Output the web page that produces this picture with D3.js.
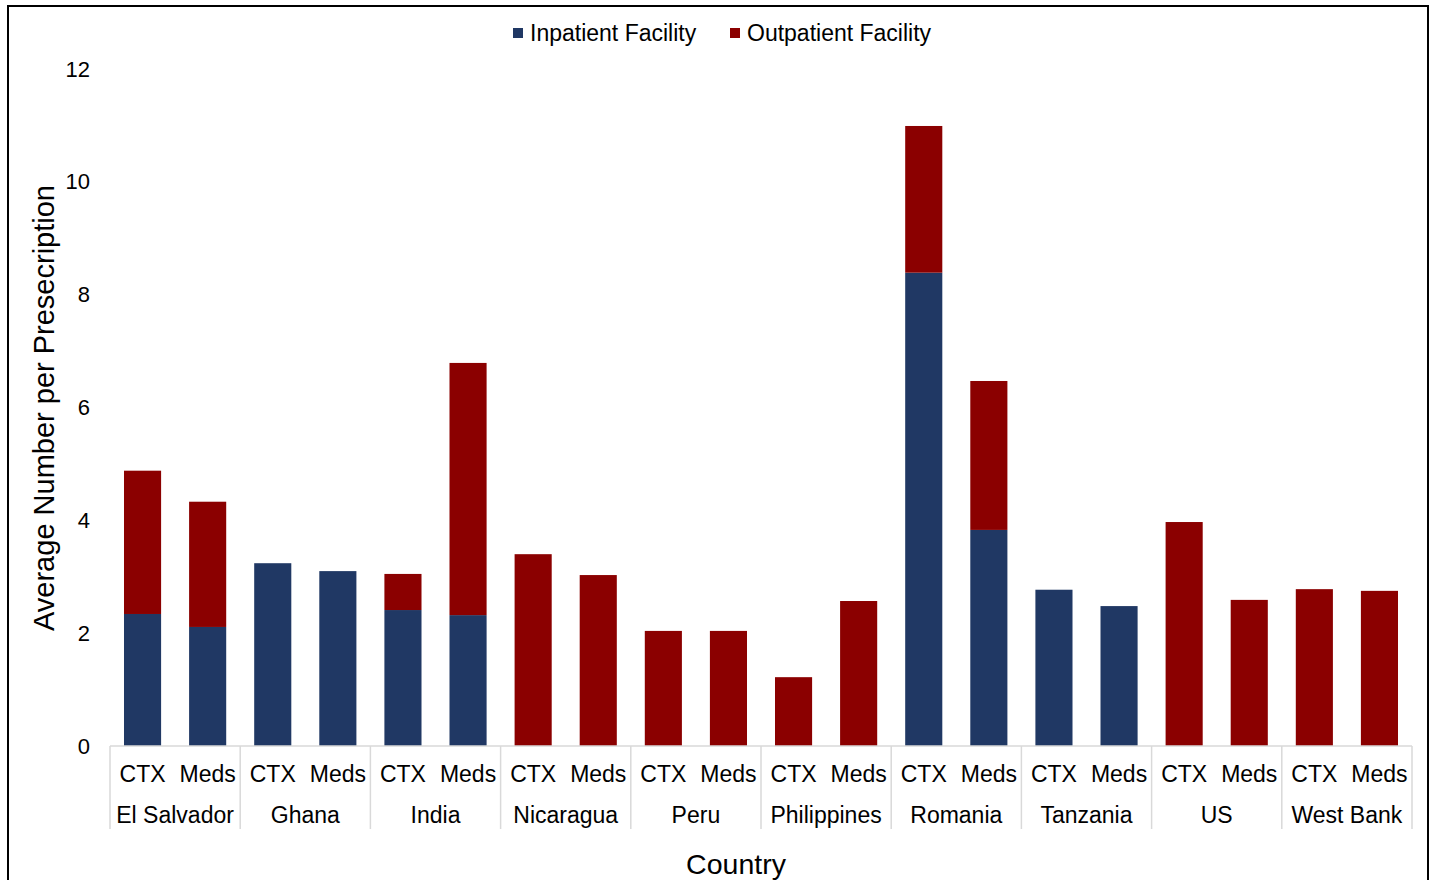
<!DOCTYPE html>
<html><head><meta charset="utf-8">
<script src="https://cdn.jsdelivr.net/npm/d3@7"></script>
<style>body{margin:0;background:#fff;}svg{display:block;font-family:"Liberation Sans",Arial,sans-serif;}</style>
</head><body>
<svg id="c" width="1432" height="880"></svg>
<script>
const countries = ["El Salvador","Ghana","India","Nicaragua","Peru","Philippines","Romania","Tanzania","US","West Bank"];
const subCats = ["CTX","Meds"];
// values per country: [CTX, Meds]
const inpatient = [[2.34,2.11],[3.24,3.10],[2.41,2.32],[0,0],[0,0],[0,0],[8.39,3.83],[2.77,2.48],[0,0],[0,0]];
const outpatient = [[2.54,2.22],[0,0],[0.64,4.47],[3.40,3.03],[2.04,2.04],[1.22,2.57],[2.60,2.64],[0,0],[3.97,2.59],[2.78,2.75]];
const yTicks = [0,2,4,6,8,10,12];
const seriesNames = ["Inpatient Facility","Outpatient Facility"];
const colors = ["#203864","#8B0000"];

const svg = d3.select("#c");
const L=110, R=1412, T=69, B=746;

const rows = [];
countries.forEach((c,i)=>subCats.forEach((s,j)=>rows.push({key:c+"|"+s,country:c,sub:s,inp:inpatient[i][j],out:outpatient[i][j]})));

const x = d3.scaleBand().domain(rows.map(d=>d.key)).range([L,R]).paddingInner(0.43).paddingOuter(0.215);
const xc = d3.scaleBand().domain(countries).range([L,R]);
const y = d3.scaleLinear().domain([0,12]).range([B,T]);

// border
svg.append("rect").attr("x",8).attr("y",6).attr("width",1420).attr("height",900).attr("fill","none").attr("stroke","#000").attr("stroke-width",2);

const stack = d3.stack().keys(["inp","out"])(rows);
svg.append("g").selectAll("g").data(stack).join("g").attr("fill",(d,i)=>colors[i])
  .selectAll("rect").data(d=>d).join("rect")
  .attr("x",d=>x(d.data.key)).attr("width",x.bandwidth())
  .attr("y",d=>y(d[1])).attr("height",d=>y(d[0])-y(d[1]));

// y axis
const ya = svg.append("g").attr("transform",`translate(${L},0)`).call(d3.axisLeft(y).tickValues(yTicks).tickSize(0).tickPadding(20));
ya.select(".domain").remove();
ya.selectAll("text").attr("font-size",22).attr("font-family","Liberation Sans, Arial, sans-serif").attr("fill","#000");

// x axis lines
const gx = svg.append("g");
gx.append("line").attr("x1",L).attr("x2",R).attr("y1",B).attr("y2",B).attr("stroke","#d9d9d9").attr("stroke-width",1.5);
const seps = countries.map(c=>xc(c)).concat([R]);
gx.selectAll("line.sep").data(seps).join("line").attr("class","sep")
  .attr("x1",d=>d).attr("x2",d=>d).attr("y1",B).attr("y2",829).attr("stroke","#d9d9d9").attr("stroke-width",1.5);
gx.selectAll("text.sub").data(rows).join("text").attr("class","sub")
  .attr("x",d=>x(d.key)+x.bandwidth()/2).attr("y",782).attr("text-anchor","middle")
  .attr("font-size",23).attr("fill","#000").text(d=>d.sub);
gx.selectAll("text.cty").data(countries).join("text").attr("class","cty")
  .attr("x",d=>xc(d)+xc.bandwidth()/2).attr("y",823).attr("text-anchor","middle")
  .attr("font-size",23).attr("fill","#000").text(d=>d);

// axis titles
svg.append("text").attr("x",736).attr("y",874).attr("text-anchor","middle").attr("font-size",28.5).attr("fill","#000").text("Country");
svg.append("text").attr("transform","translate(54,408) rotate(-90)").attr("text-anchor","middle").attr("font-size",29).attr("fill","#000").text("Average Number per Presecription");

// legend
const lg = svg.append("g");
const lx = [513,730];
seriesNames.forEach((n,i)=>{
  lg.append("rect").attr("x",lx[i]).attr("y",28).attr("width",10).attr("height",10).attr("fill",colors[i]);
  lg.append("text").attr("x",lx[i]+17).attr("y",40.5).attr("font-size",23).attr("fill","#000").text(n);
});
</script>
</body></html>
